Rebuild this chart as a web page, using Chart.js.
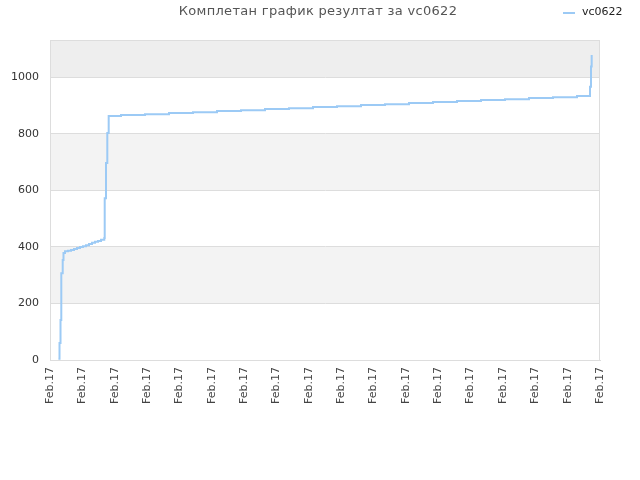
<!DOCTYPE html>
<html>
<head>
<meta charset="utf-8">
<script src="https://cdn.jsdelivr.net/npm/chart.js@4"></script>
<style>
  body { margin: 0; background: #fff; }
  #wrap { width: 640px; height: 480px; position: relative; }
</style>
</head>
<body>
<div id="wrap"><canvas id="resultChart"></canvas></div>
<script>
// tick labels along the time axis (all the same day)
var xLabels = ['Feb.17','Feb.17','Feb.17','Feb.17','Feb.17','Feb.17','Feb.17','Feb.17','Feb.17',
               'Feb.17','Feb.17','Feb.17','Feb.17','Feb.17','Feb.17','Feb.17','Feb.17','Feb.17'];

// time position of each result (in label units) and the cumulative score
var times = [0.26, 0.294, 0.325, 0.349, 0.393, 0.417, 0.464, 0.556, 0.649, 0.742, 0.835,
             0.927, 1.020, 1.113, 1.205, 1.298, 1.391, 1.484, 1.576, 1.678, 1.691, 1.731,
             1.771, 1.814, 2.195, 2.936, 3.678, 4.420, 5.162, 5.904, 6.645, 7.387, 8.129,
             8.871, 9.613, 10.354, 11.096, 11.838, 12.580, 13.322, 14.064, 14.805, 15.547,
             16.289, 16.691, 16.722, 16.743];
var scores = [4, 60, 141, 307, 353, 378, 384, 386, 389, 392, 396,
              399, 402, 406, 410, 414, 418, 421, 425, 431, 572, 696,
              802, 862, 866, 869, 873, 876, 880, 883, 887, 890, 894,
              897, 901, 904, 908, 912, 915, 919, 922, 926, 929,
              933, 966, 1037, 1078];

var seriesName = 'vc0622';
var chartTitle = 'Комплетан график резултат за vc0622';
var yMax = 1131;

window.addEventListener("load", () => {
    var ctx = document.getElementById('resultChart').getContext('2d');
    Chart.defaults.font.family = 'DejaVu Sans';

    var points = times.map((t, i) => ({ x: t, y: scores[i] }));

    // shaded bands behind the grid, frame round the plot, title and legend row
    var bandsPlugin = {
        id: 'bands',
        beforeDraw(chart) {
            var a = chart.chartArea, y = chart.scales.y, c = chart.ctx;
            var bands = [[200, 400, '#f3f3f3'], [600, 800, '#f3f3f3'], [1000, yMax, '#eeeeee']];
            c.save();
            bands.forEach(b => {
                var top = y.getPixelForValue(b[1]), bot = y.getPixelForValue(b[0]);
                c.fillStyle = b[2];
                c.fillRect(a.left, top, a.right - a.left, bot - top);
            });
            c.restore();
        },
        afterDraw(chart) {
            var a = chart.chartArea, c = chart.ctx;
            c.save();
            c.strokeStyle = '#dddddd';
            c.lineWidth = 1;
            c.strokeRect(a.left + 0.5, a.top + 0.5, a.right - a.left - 1, a.bottom - a.top);

            c.textBaseline = 'middle';
            c.fillStyle = '#555';
            c.font = '13px "DejaVu Sans"';
            c.letterSpacing = '0.3px';
            c.textAlign = 'center';
            c.fillText(chartTitle, 318, 12);
            c.letterSpacing = '0px';

            var ds = chart.data.datasets[0];
            c.strokeStyle = ds.borderColor;
            c.lineWidth = 2;
            c.beginPath();
            c.moveTo(563, 13);
            c.lineTo(575, 13);
            c.stroke();
            c.fillStyle = '#222';
            c.font = '11px "DejaVu Sans"';
            c.textAlign = 'left';
            c.fillText(ds.label, 582, 12);
            c.restore();
        }
    };

    new Chart(ctx, {
        type: 'line',
        data: {
            datasets: [{
                label: seriesName,
                data: points,
                borderColor: '#9ccaf5',
                backgroundColor: '#9ccaf5',
                borderWidth: 2,
                pointRadius: 0,
                stepped: true,
                fill: false
            }]
        },
        options: {
            responsive: true,
            maintainAspectRatio: false,
            animation: false,
            layout: { padding: { left: 0, right: 40, top: 40, bottom: 0 } },
            plugins: {
                legend: { display: false },
                tooltip: { enabled: false },
                title: { display: false }
            },
            scales: {
                x: {
                    type: 'linear',
                    min: 0,
                    max: 17,
                    grid: { display: false, drawTicks: false },
                    border: { display: true, color: '#dddddd' },
                    afterFit: s => { s.height = 120; },
                    ticks: {
                        stepSize: 1,
                        autoSkip: false,
                        maxRotation: 90,
                        minRotation: 90,
                        padding: 7,
                        color: '#444',
                        font: { size: 11 },
                        callback: v => xLabels[v]
                    }
                },
                y: {
                    min: 0,
                    max: yMax,
                    grid: { color: '#dddddd', drawTicks: false },
                    border: { display: true, color: '#dddddd' },
                    afterFit: s => { s.width = 50; },
                    ticks: {
                        stepSize: 200,
                        includeBounds: false,
                        padding: 11,
                        color: '#333',
                        font: { size: 11 },
                        callback: v => String(v)
                    }
                }
            }
        },
        plugins: [bandsPlugin]
    });
});
</script>
</body>
</html>
